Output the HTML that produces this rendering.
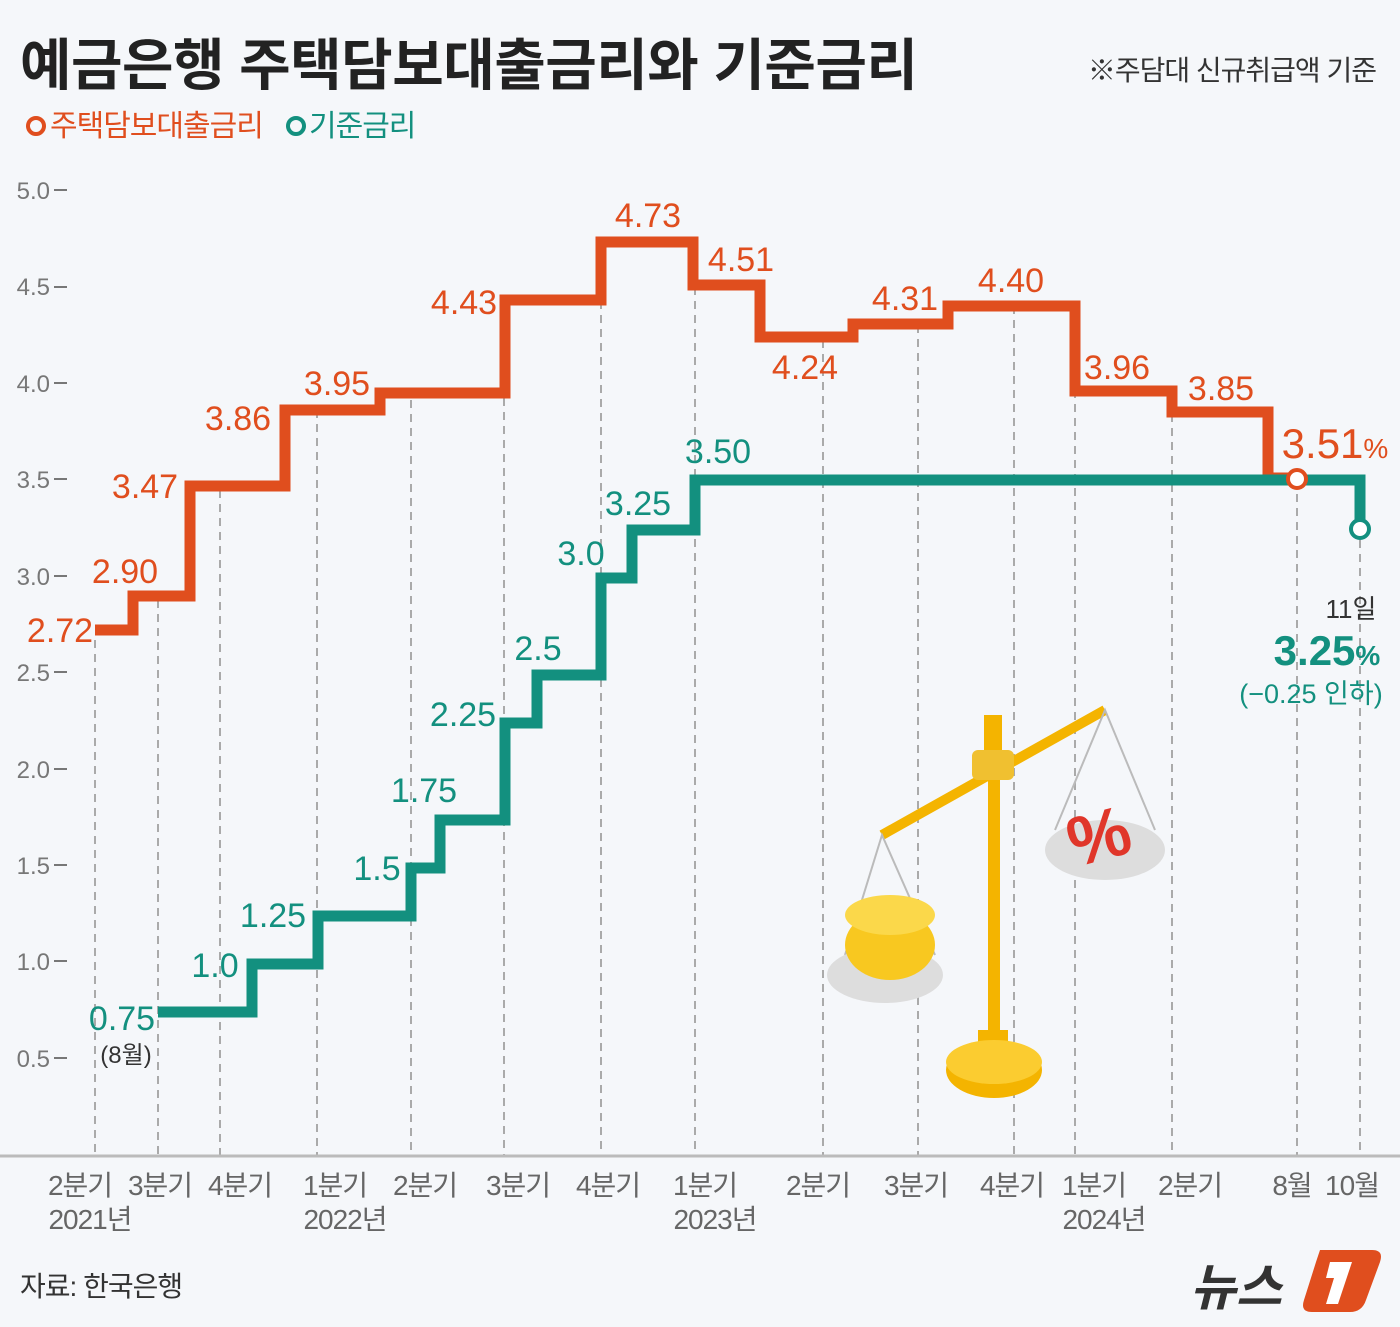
<!DOCTYPE html><html><head><meta charset="utf-8"><style>
body{margin:0;width:1400px;height:1327px;background:#f5f7fa;overflow:hidden}
svg{display:block}
text{font-family:"Liberation Sans","Noto Sans CJK KR",sans-serif}
</style></head><body>
<svg width="1400" height="1327" viewBox="0 0 1400 1327">
<text x="20" y="85" font-size="56" font-weight="bold" fill="#222" letter-spacing="-0.5">예금은행 주택담보대출금리와 기준금리</text>
<text x="1376" y="80" font-size="28" fill="#333" text-anchor="end" letter-spacing="-1">※주담대 신규취급액 기준</text>
<circle cx="36" cy="126" r="8" fill="none" stroke="#e04e1e" stroke-width="4"/>
<text x="50" y="136" font-size="30" fill="#e04e1e" letter-spacing="-1">주택담보대출금리</text>
<circle cx="296" cy="126" r="8" fill="none" stroke="#13907f" stroke-width="4"/>
<text x="309" y="136" font-size="30" fill="#13907f" letter-spacing="-1">기준금리</text>
<g font-size="24" fill="#777" text-anchor="end">
<text x="50" y="199">5.0</text><text x="50" y="295">4.5</text><text x="50" y="392">4.0</text><text x="50" y="488">3.5</text><text x="50" y="585">3.0</text><text x="50" y="681">2.5</text><text x="50" y="778">2.0</text><text x="50" y="874">1.5</text><text x="50" y="970">1.0</text><text x="50" y="1067">0.5</text>
</g>
<g stroke="#777" stroke-width="2">
<line x1="54" y1="190" x2="67" y2="190"/><line x1="54" y1="287" x2="67" y2="287"/><line x1="54" y1="383" x2="67" y2="383"/><line x1="54" y1="479" x2="67" y2="479"/><line x1="54" y1="576" x2="67" y2="576"/><line x1="54" y1="672" x2="67" y2="672"/><line x1="54" y1="769" x2="67" y2="769"/><line x1="54" y1="865" x2="67" y2="865"/><line x1="54" y1="961" x2="67" y2="961"/><line x1="54" y1="1058" x2="67" y2="1058"/>
</g>
<g stroke="#aaa" stroke-width="2" stroke-dasharray="8,6">
<line x1="95" y1="640" x2="95" y2="1155"/><line x1="158" y1="600" x2="158" y2="1155"/><line x1="220" y1="490" x2="220" y2="1155"/><line x1="317" y1="410" x2="317" y2="1155"/><line x1="411" y1="400" x2="411" y2="1155"/><line x1="504" y1="300" x2="504" y2="1155"/><line x1="601" y1="245" x2="601" y2="1155"/><line x1="695" y1="245" x2="695" y2="1155"/><line x1="823" y1="340" x2="823" y2="1155"/><line x1="918" y1="325" x2="918" y2="1155"/><line x1="1014" y1="306" x2="1014" y2="1155"/><line x1="1075" y1="306" x2="1075" y2="1155"/><line x1="1172" y1="400" x2="1172" y2="1155"/><line x1="1297" y1="480" x2="1297" y2="1155"/><line x1="1360" y1="540" x2="1360" y2="1155"/>
</g>
<line x1="0" y1="1156" x2="1400" y2="1156" stroke="#bbb" stroke-width="3"/>
<polyline fill="none" stroke="#e04e1e" stroke-width="11" points="95,630 133,630 133,596 190,596 190,486 285,486 285,410 380,410 380,393 505,393 505,300 601,300 601,242 693,242 693,285 760,285 760,337 853,337 853,324 948,324 948,306 1075,306 1075,391 1172,391 1172,412 1268,412 1268,478 1290,478"/>
<polyline fill="none" stroke="#13907f" stroke-width="11" points="158,1012 252,1012 252,964 318,964 318,916 411,916 411,868 440,868 440,820 505,820 505,723 537,723 537,675 601,675 601,578 632,578 632,530 695,530 695,480 1360,480 1360,520"/>
<circle cx="1297" cy="479" r="9" fill="#fff" stroke="#e04e1e" stroke-width="4"/>
<circle cx="1360" cy="529" r="9" fill="#fff" stroke="#13907f" stroke-width="4"/>
<g font-size="34" fill="#e04e1e" text-anchor="middle">
<text x="60" y="642">2.72</text><text x="125" y="583">2.90</text><text x="145" y="498">3.47</text><text x="238" y="430">3.86</text><text x="337" y="395">3.95</text><text x="464" y="314">4.43</text><text x="648" y="227">4.73</text><text x="741" y="271">4.51</text><text x="805" y="379">4.24</text><text x="905" y="310">4.31</text><text x="1011" y="292">4.40</text><text x="1117" y="379">3.96</text><text x="1221" y="400">3.85</text>
<text x="1335" y="458" font-size="42">3.51<tspan font-size="28">%</tspan></text>
</g>
<g font-size="34" fill="#13907f" text-anchor="middle">
<text x="122" y="1030">0.75</text><text x="215" y="977">1.0</text><text x="273" y="927">1.25</text><text x="377" y="880">1.5</text><text x="424" y="802">1.75</text><text x="463" y="726">2.25</text><text x="538" y="660">2.5</text><text x="581" y="565">3.0</text><text x="638" y="515">3.25</text><text x="718" y="463">3.50</text>
<text x="1327" y="665" font-size="42" font-weight="bold">3.25<tspan font-size="28">%</tspan></text>
</g>
<text x="126" y="1063" font-size="24" fill="#333" text-anchor="middle">(8월)</text>
<text x="1351" y="618" font-size="26" fill="#333" text-anchor="middle">11일</text>
<text x="1311" y="703" font-size="27" fill="#13907f" text-anchor="middle">(−0.25 인하)</text>
<g font-size="28" fill="#666" text-anchor="middle" letter-spacing="-1">
<text x="80" y="1195">2분기</text><text x="160" y="1195">3분기</text><text x="240" y="1195">4분기</text><text x="335" y="1195">1분기</text><text x="425" y="1195">2분기</text><text x="518" y="1195">3분기</text><text x="608" y="1195">4분기</text><text x="705" y="1195">1분기</text><text x="818" y="1195">2분기</text><text x="916" y="1195">3분기</text><text x="1012" y="1195">4분기</text><text x="1094" y="1195">1분기</text><text x="1190" y="1195">2분기</text><text x="1292" y="1195">8월</text><text x="1352" y="1195">10월</text>
<text x="90" y="1229">2021년</text><text x="345" y="1229">2022년</text><text x="715" y="1229">2023년</text><text x="1104" y="1229">2024년</text>
</g>
<text x="20" y="1296" font-size="28" fill="#333" letter-spacing="-1">자료: 한국은행</text>
<text x="1190" y="1305" font-size="50" font-weight="bold" font-style="italic" fill="#333">뉴스</text>
<path d="M1320,1250 L1372,1250 Q1384,1250 1380,1262 L1366,1300 Q1362,1312 1350,1312 L1312,1312 Q1300,1312 1304,1300 L1316,1262 Q1320,1250 1320,1250Z" fill="#e04e1e"/>
<path d="M1330,1262 L1352,1262 L1338,1304 L1326,1304 L1334,1278 L1326,1278Z" fill="#fff"/>
<g>
<line x1="882" y1="835" x2="1105" y2="710" stroke="#f4b400" stroke-width="10"/>
<rect x="988" y="730" width="12" height="310" fill="#f4b400"/>
<rect x="972" y="750" width="42" height="30" rx="6" fill="#f0c030"/>
<rect x="984" y="715" width="18" height="35" fill="#f4b400"/>
<rect x="978" y="1030" width="30" height="30" fill="#f4b400"/>
<ellipse cx="994" cy="1070" rx="48" ry="28" fill="#f4b400"/>
<ellipse cx="994" cy="1062" rx="48" ry="22" fill="#fbcc30"/>
<g stroke="#bbb" stroke-width="2" fill="none"><polyline points="845,955 882,835 935,955"/><polyline points="1055,830 1105,710 1155,830"/></g>
<ellipse cx="885" cy="975" rx="58" ry="28" fill="#ddd"/>
<ellipse cx="890" cy="945" rx="45" ry="35" fill="#f8c820"/>
<ellipse cx="890" cy="915" rx="45" ry="20" fill="#fbd84a"/>
<ellipse cx="1105" cy="850" rx="60" ry="30" fill="#ddd"/>
<text x="1100" y="860" font-size="70" font-weight="bold" fill="#e0362a" text-anchor="middle" transform="rotate(-15 1100 840)">%</text>
</g>
</svg>
</body></html>
